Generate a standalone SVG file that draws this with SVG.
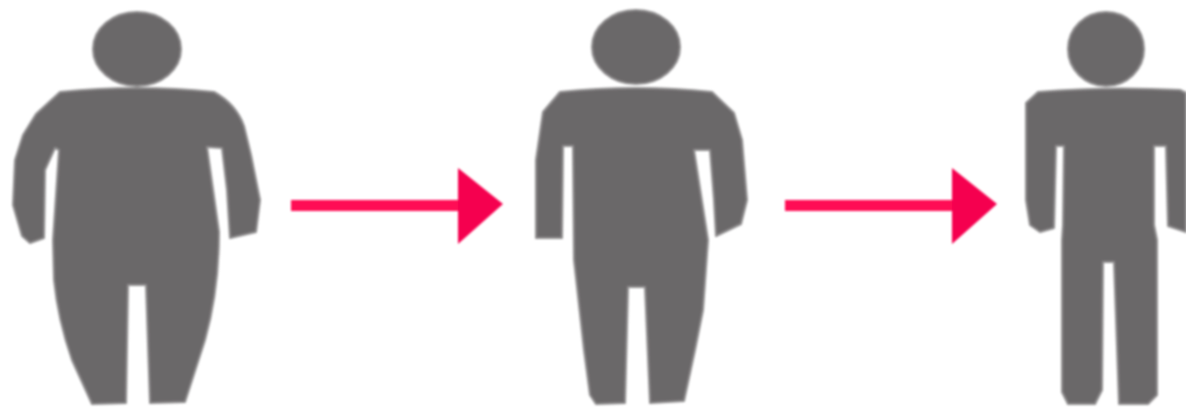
<svg xmlns="http://www.w3.org/2000/svg" width="1186" height="408" viewBox="0 0 1186 408">
<style>.p{fill:#6a6869;stroke:#8f8d8e;stroke-width:2;stroke-linejoin:round}.c{fill:none;stroke:#ff0a55;stroke-width:11}.h{fill:#f5054f}</style>
<defs><filter id="b" x="-5%" y="-5%" width="110%" height="110%"><feGaussianBlur stdDeviation="1.3"/></filter></defs>
<rect width="1186" height="408" fill="#fff"/>
<g id="figure-large" filter="url(#b)">
<ellipse class="p" cx="137" cy="49" rx="44" ry="37"/>
<path class="p" d="M60 92 Q137 84 214 92 Q236 104 244 126 L251 155 L260 200 L256 232 L230 238 L227 190 L222 148 L207 147 L219 232 Q219 290 205 340 L185 402 L150 403 L146 285 L128 285 L126 403 L92 404 L72 360 Q58 320 54 280 L53 240 L59 150 L55 148 L45 170 L44 238 L30 243 L22 236 L13 205 L15 160 L23 135 L36 114 Z"/>
</g>
<g id="figure-medium" filter="url(#b)">
<ellipse class="p" cx="636" cy="47" rx="44" ry="37"/>
<path class="p" d="M560 92 Q636 84 712 92 L734 113 L742 140 L747 200 L741 224 L716 236 L714 200 L710 150 L694 150 L708 240 L703 310 L695 350 L684 401 L650 403 L645 287 L628 287 L625 403 L596 404 L590 395 L584 350 L574 260 L573 146 L563 146 L562 238 L536 238 L536 160 L543 112 Z"/>
</g>
<g id="figure-slim" filter="url(#b)">
<ellipse class="p" cx="1106" cy="49" rx="38" ry="37"/>
<path class="p" d="M1038 92 Q1106 86 1180 90 L1186 93 L1186 232 L1168 226 L1166 146 L1154 146 L1154 225 L1157 240 L1157 395 L1148 404 L1119 404 L1115 290 L1114 262 L1103 262 L1102 390 L1095 404 L1068 404 L1062 392 L1062 240 L1063 225 L1064 146 L1056 146 L1054 228 L1040 232 L1030 225 L1026 200 L1026 103 Z"/>
</g>
<g id="connectors" filter="url(#b)">
<path class="c" d="M291 205.500H470"/><path class="h" d="M458 168 L503 204 L458 244 Z"/>
<path class="c" d="M785 205.500H960"/><path class="h" d="M952 168 L997 204 L952 244 Z"/>
</g>
</svg>
